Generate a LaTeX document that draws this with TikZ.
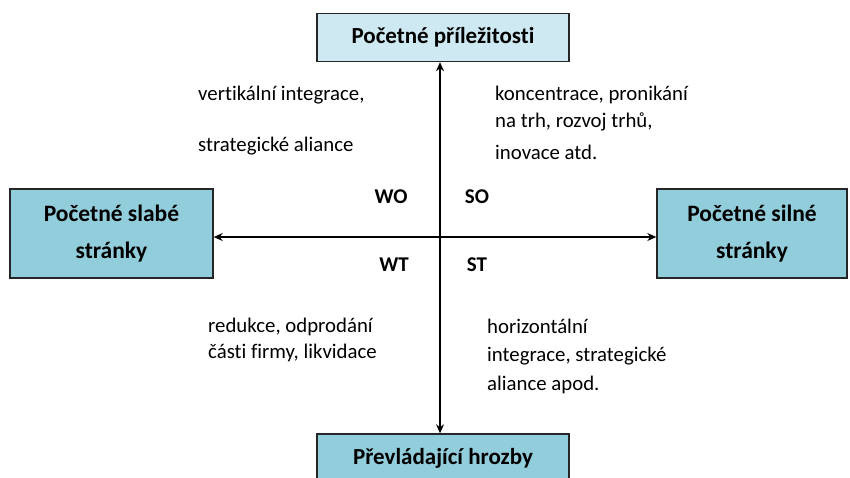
\documentclass[tikz,border=0pt]{standalone}
\usepackage{fontspec}
\setmainfont{Carlito}[Ligatures={NoCommon}]
\usetikzlibrary{arrows.meta}
\definecolor{boxlight}{RGB}{206,233,241}
\definecolor{boxblue}{RGB}{146,205,220}
\tikzset{
  box/.style={draw=black!85, line width=1.4pt, fill=boxblue, inner sep=0pt},
  ttl/.style={font=\fontsize{23}{23}\selectfont\bfseries, align=center},
  lbl/.style={font=\fontsize{20.8}{20.8}\selectfont, anchor=west, inner sep=0pt},
  quad/.style={font=\fontsize{21}{21}\selectfont\bfseries, inner sep=0pt},
  axis/.style={line width=2.4pt, -{Stealth[length=9pt,width=8pt]}},
}
\begin{document}
\begin{tikzpicture}[x=1pt,y=-1pt]
\useasboundingbox (0,0) rectangle (850,477);
\begin{scope}
\clip (0,0) rectangle (850,477);
\node[box, fill=boxlight, minimum width=252pt, minimum height=48pt] (top) at (443,37.5) {};
\node[ttl] at (top.center) {Početné příležitosti};
\node[box, minimum width=203pt, minimum height=89pt] (left) at (111.5,233.5) {};
\node[ttl, font=\fontsize{23.5}{37}\selectfont\bfseries] at (left.center) {Početné slabé\\stránky};
\node[box, minimum width=190pt, minimum height=89pt] (right) at (752,233.5) {};
\node[ttl, font=\fontsize{23.5}{37}\selectfont\bfseries] at (right.center) {Početné silné\\stránky};
\node[box, minimum width=252pt, minimum height=60pt] (bot) at (443,464) {};
\node[ttl] at (443,458) {Převládající hrozby};
\end{scope}
\coordinate (c) at (440,237);
\draw[axis] (c) -- (c |- top.south);
\draw[axis] (c) -- (c |- bot.north);
\draw[axis] (c) -- (c -| left.east);
\draw[axis] (c) -- (c -| right.west);
\node[quad] (wo) at (391,197) {WO};
\node[quad] (so) at (477,197) {SO};
\node[quad] (wt) at (394,265) {WT};
\node[quad] (st) at (477,265) {ST};
\node[lbl] (t1) at (198,95) {vertikální integrace,};
\node[lbl] (t2) at (198,146) {strategické aliance};
\node[lbl] (t3) at (495,95) {koncentrace, pronikání};
\node[lbl] (t4) at (495,122) {na trh, rozvoj trhů,};
\node[lbl] (t5) at (495,152) {inovace atd.};
\node[lbl] (t6) at (208,327) {redukce, odprodání};
\node[lbl] (t7) at (208,353) {části firmy, likvidace};
\node[lbl] (t8) at (487,326) {horizontální};
\node[lbl] (t9) at (487,356) {integrace, strategické};
\node[lbl] (t10) at (487,385) {aliance apod.};
\end{tikzpicture}
\end{document}
